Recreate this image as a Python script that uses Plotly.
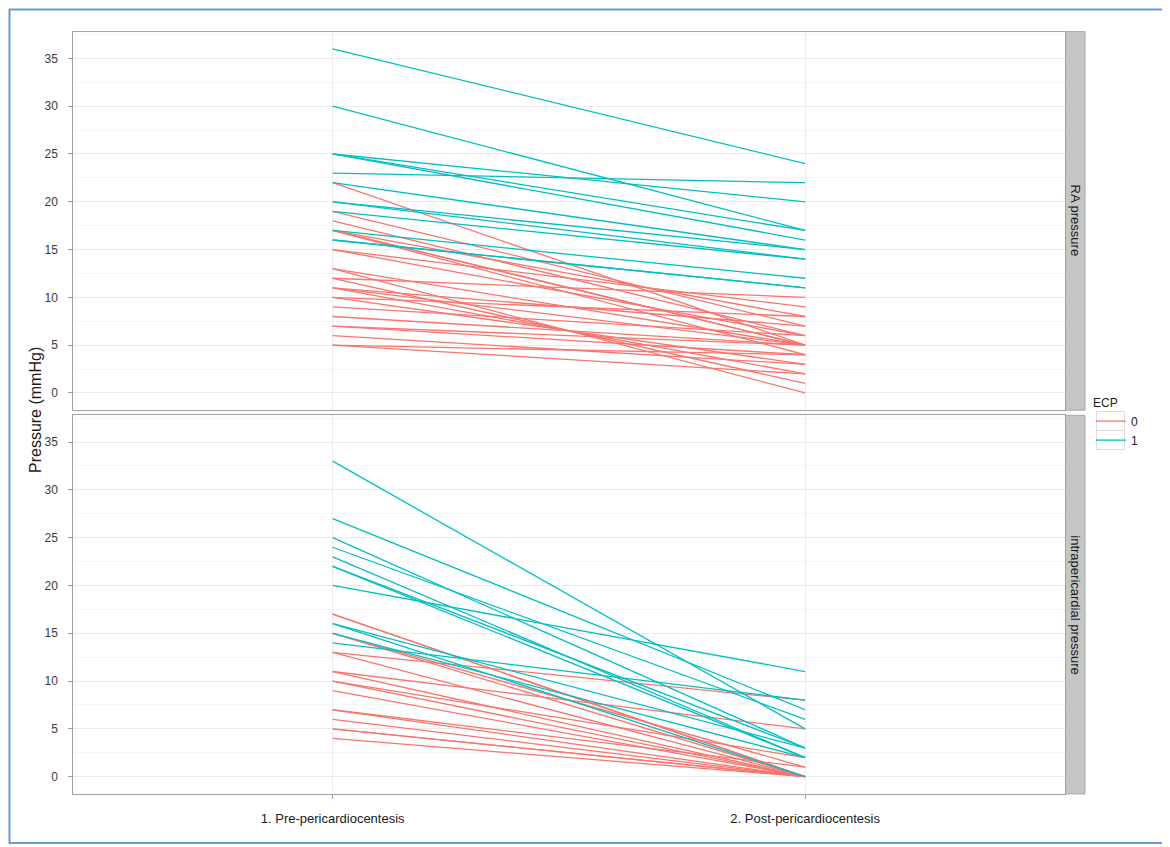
import plotly.graph_objects as go

# ---------------- data ----------------
categories = ["1. Pre-pericardiocentesis", "2. Post-pericardiocentesis"]
panels = ["RA pressure", "intrapericardial pressure"]

# RA pressure panel
ra_pre_ecp1 = [36, 30, 25, 25, 25, 23, 22, 20, 20, 19, 17, 16, 16]
ra_post_ecp1 = [24, 17, 20, 17, 16, 22, 15, 15, 14, 14, 12, 11, 11]
ra_pre_ecp0 = [22, 19, 18, 17, 17, 17, 17, 15, 15, 13, 13, 12, 12, 11, 11, 11, 10, 10, 9, 8, 7, 7, 6, 5, 5]
ra_post_ecp0 = [5, 7, 6, 5, 5, 4, 8, 6, 9, 0, 5, 1, 10, 2, 5, 7, 8, 3, 6, 5, 5, 4, 3, 4, 2]

# intrapericardial pressure panel
ip_pre_ecp1 = [33, 27, 25, 24, 23, 22, 22, 20, 16, 16, 15, 14]
ip_post_ecp1 = [5, 7, 3, 6, 2, 3, 2, 11, 0, 3, 2, 8]
ip_pre_ecp0 = [17, 17, 15, 15, 13, 13, 11, 11, 10, 10, 9, 7, 7, 6, 5, 5, 4]
ip_post_ecp0 = [0, 0, 1, 0, 8, 0, 5, 0, 0, 2, 0, 0, 1, 0, 0, 0, 0]

y_ticks = [0, 5, 10, 15, 20, 25, 30, 35]
legend_title = "ECP"
legend_labels = ["0", "1"]
y_title = "Pressure (mmHg)"

# ---------------- style ----------------
OFF = 8  # page body margin
W, H = 1170 - OFF, 847 - OFF
RED = "#F8766D"
TEAL = "#00BFC4"
FONT = "Liberation Sans, Arial, sans-serif"
TICK_COLOR = "#3a3a3a"


def px_x(p):
    return (p - OFF) / W


def px_y(p):
    return 1 - (p - OFF) / H


x_dom = [px_x(73.3), px_x(1064.5)]
top_dom = [px_y(410.2), px_y(31.6)]
bot_dom = [px_y(793.9), px_y(415.3)]
y_range = [-1.8, 37.8]
x_range = [-0.549, 1.549]


def segments(pre, post):
    xs, ys = [], []
    for a, b in zip(pre, post):
        xs += [categories[0], categories[1], None]
        ys += [a, b, None]
    return xs, ys


fig = go.Figure()

series = [
    (ra_pre_ecp0, ra_post_ecp0, RED, legend_labels[0], "x", "y", True),
    (ra_pre_ecp1, ra_post_ecp1, TEAL, legend_labels[1], "x", "y", True),
    (ip_pre_ecp0, ip_post_ecp0, RED, legend_labels[0], "x2", "y2", False),
    (ip_pre_ecp1, ip_post_ecp1, TEAL, legend_labels[1], "x2", "y2", False),
]
for pre, post, col, name, xa, ya, show in series:
    xs, ys = segments(pre, post)
    fig.add_trace(go.Scatter(
        x=xs, y=ys, mode="lines", line=dict(color=col, width=1.3),
        name=name, legendgroup=name, showlegend=show,
        xaxis=xa, yaxis=ya, connectgaps=False, hoverinfo="skip",
    ))

common_y = dict(
    range=y_range, tickvals=y_ticks, ticks="outside", ticklen=4,
    tickcolor="#a0a0a0", tickfont=dict(family=FONT, size=12, color=TICK_COLOR),
    showgrid=True, gridcolor="#ebebeb", gridwidth=1, zeroline=False,
    showline=True, mirror=True, linecolor="#a0a0a0", linewidth=1,
    minor=dict(tickvals=[2.5, 7.5, 12.5, 17.5, 22.5, 27.5, 32.5, 37.5],
               showgrid=True, gridcolor="#f6f6f6", gridwidth=1, ticks=""),
    ticklabelstandoff=8,
)
common_x = dict(
    type="category", categoryarray=categories, range=x_range,
    showgrid=True, gridcolor="#ebebeb", gridwidth=1, zeroline=False,
    showline=True, mirror=True, linecolor="#a0a0a0", linewidth=1,
    domain=x_dom,
)

fig.update_layout(
    width=W, height=H,
    margin=dict(l=0, r=0, t=0, b=0),
    paper_bgcolor="white", plot_bgcolor="white",
    font=dict(family=FONT, size=11, color="#1a1a1a"),
    xaxis=dict(**common_x, anchor="y", showticklabels=False, ticks=""),
    yaxis=dict(**common_y, domain=top_dom, anchor="x"),
    xaxis2=dict(**common_x, anchor="y2", ticks="outside", ticklen=4,
                tickcolor="#a0a0a0",
                tickfont=dict(family=FONT, size=13, color="#1a1a1a"),
                ticklabelstandoff=8),
    yaxis2=dict(**common_y, domain=bot_dom, anchor="x2"),
    legend=dict(
        title=dict(text=legend_title, font=dict(family=FONT, size=12, color="#1a1a1a")),
        x=px_x(1091), y=px_y(391), xanchor="left", yanchor="top",
        font=dict(family=FONT, size=12, color="#1a1a1a"),
        bgcolor="rgba(0,0,0,0)", tracegroupgap=0, itemwidth=30,
    ),
    showlegend=True,
)

shapes = []
annotations = []
# strips
for dom, label in [(top_dom, panels[0]), (bot_dom, panels[1])]:
    shapes.append(dict(type="rect", xref="paper", yref="paper",
                       x0=px_x(1065.5), x1=px_x(1085), y0=dom[0], y1=dom[1],
                       fillcolor="#c6c6c6", line=dict(color="#a8a8a8", width=1),
                       layer="below"))
    annotations.append(dict(xref="paper", yref="paper",
                            x=px_x(1075.3), y=(dom[0] + dom[1]) / 2,
                            text=label, textangle=90, showarrow=False,
                            font=dict(family=FONT, size=13, color="#1a1a1a"),
                            xanchor="center", yanchor="middle"))
# legend key boxes
for top_px, bot_px in [(411.5, 430.5), (430.5, 449.5)]:
    shapes.append(dict(type="rect", xref="paper", yref="paper",
                       x0=px_x(1096.5), x1=px_x(1124.5),
                       y0=px_y(bot_px), y1=px_y(top_px),
                       fillcolor="rgba(0,0,0,0)",
                       line=dict(color="#dcdcdc", width=1)))
# y-axis title
annotations.append(dict(xref="paper", yref="paper", x=px_x(35), y=px_y(410),
                        text=y_title, textangle=-90, showarrow=False,
                        font=dict(family=FONT, size=16, color="#1a1a1a"),
                        xanchor="center", yanchor="middle"))
# outer blue frame
shapes.append(dict(type="rect", xref="paper", yref="paper",
                   x0=px_x(9.5), x1=px_x(1163), y0=px_y(843), y1=px_y(9.5),
                   line=dict(color="#6a98d8", width=2), fillcolor="rgba(0,0,0,0)"))

fig.update_layout(shapes=shapes, annotations=annotations)

fig.write_html("out.html")
